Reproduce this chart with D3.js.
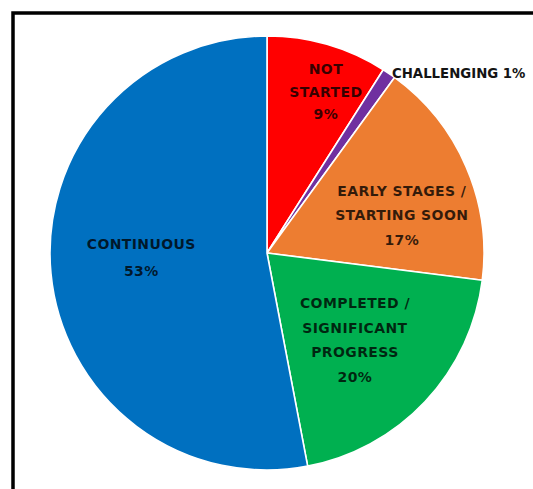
<!DOCTYPE html>
<html>
<head>
<meta charset="utf-8">
<script src="https://cdn.jsdelivr.net/npm/d3@7"></script>
<style>
  html, body { margin: 0; padding: 0; background: #fff; }
  svg { display: block; }
</style>
</head>
<body>
<svg id="chart" width="533" height="489"></svg>
<script>
// Status breakdown, clockwise from 12 o'clock
const categories = ["NOT STARTED", "CHALLENGING", "EARLY STAGES / STARTING SOON", "COMPLETED / SIGNIFICANT PROGRESS", "CONTINUOUS"];
const values = [9, 1, 17, 20, 53];
const colors = ["#FF0000", "#7030A0", "#ED7D31", "#00B050", "#0070C0"];
// Label text split into lines
const labelLines = [
  ["NOT", "STARTED", "9%"],
  ["CHALLENGING 1%"],
  ["EARLY STAGES /", "STARTING SOON", "17%"],
  ["COMPLETED /", "SIGNIFICANT", "PROGRESS", "20%"],
  ["CONTINUOUS", "53%"]
];

const svg = d3.select("#chart");
const W = 533, H = 489;
const cx = 267, cy = 253, r = 217;

// Frame
svg.append("rect")
  .attr("x", 13).attr("y", 13)
  .attr("width", W + 20).attr("height", H + 20)
  .attr("fill", "none").attr("stroke", "#000").attr("stroke-width", 3.5);

const data = categories.map((c, i) => ({ cat: c, value: values[i], color: colors[i], lines: labelLines[i] }));

const pie = d3.pie().sort(null).value(d => d.value);
const arcs = pie(data);
const arc = d3.arc().innerRadius(0).outerRadius(r);

const g = svg.append("g").attr("transform", `translate(${cx},${cy})`);

g.selectAll("path.slice")
  .data(arcs)
  .join("path")
  .attr("class", "slice")
  .attr("d", arc)
  .attr("fill", d => d.data.color)
  .attr("stroke", "#fff")
  .attr("stroke-width", 1.6)
  .attr("stroke-linejoin", "round");

// Label placement: angle offset (deg, from slice middle) and radius fraction
const labelLayout = {
  "NOT STARTED": { dAngle: 3.9, rf: 0.79, lh: 22.5 },
  "EARLY STAGES / STARTING SOON": { dAngle: 7.7, rf: 0.645, lh: 24.5 },
  "COMPLETED / SIGNIFICANT PROGRESS": { dAngle: 1.5, rf: 0.57, lh: 24.7 },
  "CONTINUOUS": { dAngle: 3.1, rf: 0.58, lh: 27 }
};

const fontFamily = "'DejaVu Sans', sans-serif";
const fontSize = 14;
const tracking = 0.4;

arcs.forEach(a => {
  const d = a.data;
  const mid = (a.startAngle + a.endAngle) / 2;
  if (d.cat === "CHALLENGING") {
    // Outside label starting at the slice's outer edge, kept inside the page
    const px = Math.sin(mid) * r, py = -Math.cos(mid) * r;
    g.append("text")
      .attr("x", px + 3).attr("y", py)
      .attr("dy", "0.35em")
      .attr("text-anchor", "start")
      .attr("font-family", fontFamily)
      .attr("font-weight", "bold")
      .attr("font-size", 13.3)
      .attr("fill", "#141414")
      .text(d.lines[0]);
    return;
  }
  const L = labelLayout[d.cat];
  const ang = mid + L.dAngle * Math.PI / 180;
  const lx = Math.sin(ang) * r * L.rf, ly = -Math.cos(ang) * r * L.rf;
  const n = d.lines.length;
  const t = g.append("text")
    .attr("text-anchor", "middle")
    .attr("font-family", fontFamily)
    .attr("font-weight", "bold")
    .attr("font-size", fontSize)
    .attr("letter-spacing", tracking)
    .attr("fill", "#000")
    .attr("fill-opacity", 0.78);
  d.lines.forEach((line, i) => {
    t.append("tspan")
      .attr("x", lx)
      .attr("y", ly + (i - (n - 1) / 2) * L.lh)
      .attr("dy", "0.35em")
      .text(line);
  });
});
</script>
</body>
</html>
